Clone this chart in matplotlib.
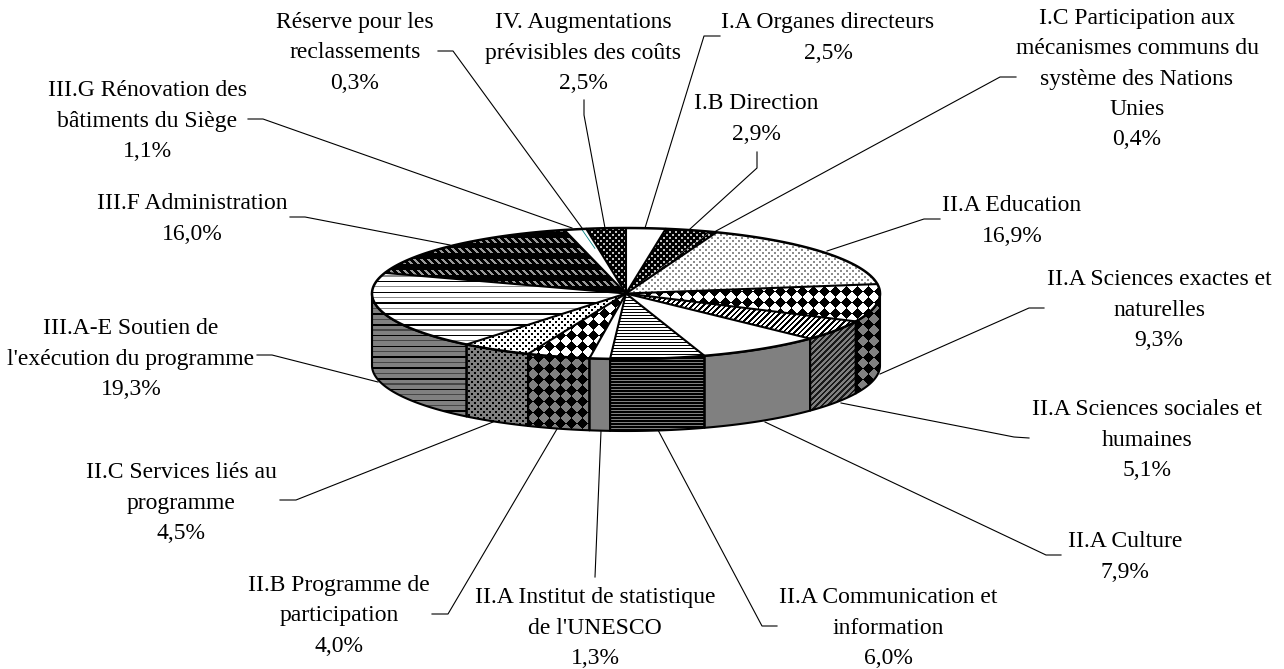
"""3D pie of the UNESCO budget split, drawn by hand as an oblique projection."""
import numpy as np
import matplotlib
matplotlib.use("Agg")
import matplotlib.pyplot as plt
from matplotlib.patches import Polygon

names = [
    "I.A Organes directeurs",
    "I.B Direction",
    "I.C Participation aux\nmécanismes communs du\nsystème des Nations\nUnies",
    "II.A Education",
    "II.A Sciences exactes et\nnaturelles",
    "II.A Sciences sociales et\nhumaines",
    "II.A Culture",
    "II.A Communication et\ninformation",
    "II.A Institut de statistique\nde l'UNESCO",
    "II.B Programme de\nparticipation",
    "II.C Services liés au\nprogramme",
    "III.A-E Soutien de\nl'exécution du programme",
    "III.F Administration",
    "III.G Rénovation des\nbâtiments du Siège",
    "Réserve pour les\nreclassements",
    "IV. Augmentations\nprévisibles des coûts",
]
shares = [2.5, 2.9, 0.4, 16.9, 9.3, 5.1, 7.9, 6.0, 1.3, 4.0, 4.5, 19.3, 16.0, 1.1, 0.3, 2.5]
fills = ["plain", "dark_dots", "dark_dots", "fine_dots", "diamonds", "diagonal", "plain",
         "fine_lines", "plain", "diamonds", "dots", "wide_lines", "slashes", "plain", "plain",
         "dark_dots"]

# layout, in pixels of the 1284x669 canvas
W, H = 1284, 669
CX, CY, RX, RY, DEPTH = 626, 293.5, 254, 65.5, 72
label_x = [828, 756, 1137, 1012, 1159, 1147, 1125, 888, 595, 339, 181, 131, 192, 147, 355, 583]
label_y = [36, 117, 77, 219, 308, 438, 555, 626, 626, 614, 501, 357, 217, 119, 51, 51]
TEXT_DY = 2.0
leaders = [
    [(720, 36), (704, 36), (645, 228)],
    [(757, 152), (757, 168), (690, 229)],
    [(1016, 77), (1000, 77), (716, 231)],
    [(940, 219), (924, 219), (827, 251)],
    [(1044, 308), (1029, 308), (880, 374)],
    [(1029, 438), (1014, 437), (841, 403)],
    [(1061, 555), (1046, 555), (765, 422)],
    [(777, 626), (762, 626), (658, 430)],
    [(595, 577), (601, 431)],
    [(432, 614), (448, 614), (557, 429)],
    [(280, 500), (296, 500), (493, 422)],
    [(257, 355), (272, 355), (378, 382)],
    [(290, 217), (305, 217), (450, 245)],
    [(248, 119), (263, 119), (572, 228)],
    [(438, 51), (453, 51), (582, 228)],
    [(584, 100), (584, 115), (605, 228)],
]

GREY = 0.5
X, Y = np.meshgrid(np.arange(W) + 0.5, np.arange(H) + 0.5)


def ink(kind, side):
    """Ink coverage (0-1) of a fill pattern over the whole canvas."""
    if kind == "dark_dots":
        holes = ((X % 6 < 2) & (Y % 6 < 2)) | (((X + 3) % 6 < 2) & ((Y + 3) % 6 < 2))
        return np.where(holes, 0.25, 1.0)
    if kind == "fine_dots":
        dots = ((X % 6 < 2) & (Y % 6 < 2)) | (((X + 3) % 6 < 2) & ((Y + 3) % 6 < 2))
        return np.where(dots, 0.45, 0.0)
    if kind == "dots":
        dots = ((X % 6 < 2) & (Y % 6 < 2)) | (((X + 3) % 6 < 2) & ((Y + 3) % 6 < 2))
        return dots * 1.0
    if kind == "diamonds":
        return (((X + Y) % 22 < 11) ^ ((X - Y) % 22 < 11)) * 1.0
    if kind == "diagonal":
        return ((X + Y) % 5.6 < 2.6) * (0.8 if side else 1.0)
    if kind == "fine_lines":
        return (Y % 3 < (2 if side else 1)) * 1.0
    if kind == "wide_lines":
        strong = Y % 10.8 < 1.5
        weak = (Y + 5.4) % 10.8 < 1.2
        return np.where(strong, 1.0, np.where(weak, 0.45, 0.0))
    if kind == "slashes":
        holes = (Y % 10.8 < 5) & ((X - Y) % 7 < 2.5)
        return np.where(holes, 0.4, 1.0)
    return None


def rim(start, stop, drop=0.0):
    """Rim points between two cumulative shares, clockwise from the top."""
    n = max(int(abs(stop - start) * 6), 2)
    t = np.linspace(start, stop, n) / 100 * 2 * np.pi
    return np.column_stack([CX + RX * np.sin(t), CY - RY * np.cos(t) + drop])


def fill_poly(ax, pts, bg, kind, side, z):
    patch = Polygon(pts, closed=True, facecolor=(bg, bg, bg), edgecolor="none", zorder=z)
    ax.add_patch(patch)
    cover = ink(kind, side)
    if cover is not None:
        shade = bg * (1 - cover)
        im = ax.imshow(shade, cmap="gray", vmin=0, vmax=1, extent=(0, W, H, 0),
                       interpolation="nearest", zorder=z, aspect="auto")
        im.set_clip_path(patch)


plt.rcParams["font.family"] = ["Liberation Serif", "DejaVu Serif"]
fig = plt.figure(figsize=(W / 100, H / 100), dpi=100)
ax = fig.add_axes([0, 0, 1, 1])

edges = np.concatenate([[0], np.cumsum(shares)])
edges = edges / edges[-1] * 100

# front wall, only the part facing the viewer
for i, kind in enumerate(fills):
    a, b = max(edges[i], 25), min(edges[i + 1], 75)
    if b <= a:
        continue
    pts = np.vstack([rim(a, b), rim(b, a, DEPTH)])
    fill_poly(ax, pts, GREY, kind, True, 2)
    ax.add_patch(Polygon(pts, closed=True, fill=False, ec="k", lw=1.5, joinstyle="round", zorder=3))

# top face
for i, kind in enumerate(fills):
    pts = np.vstack([[(CX, CY)], rim(edges[i], edges[i + 1])])
    fill_poly(ax, pts, 1.0, kind, False, 4)
for i in range(len(fills)):
    if i in (2, len(fills) - 2):  # these spokes do not show as black
        continue
    p = rim(edges[i], edges[i] + 0.01)[0]
    ax.plot([CX, p[0]], [CY, p[1]], color="k", lw=1.5, solid_capstyle="round", zorder=5)
p = rim(edges[-3], edges[-3] + 0.01)[0]
ax.plot([p[0], CX + (p[0] - CX) * 0.7], [p[1], CY + (p[1] - CY) * 0.7], color="#008080", lw=0.6, zorder=5)
ax.add_patch(Polygon(rim(0, 100), closed=True, fill=False, ec="k", lw=1.8, zorder=6))

# leaders and labels
for path in leaders:
    xs, ys = zip(*path)
    ax.plot(xs, ys, color="k", lw=0.8, zorder=1)
for name, share, x, y in zip(names, shares, label_x, label_y):
    pct = f"{share:.1f}%".replace(".", ",")
    ax.text(x, y + TEXT_DY, f"{name}\n{pct}", ha="center", va="center",
            fontsize=17, linespacing=1.58, color="k", zorder=7)

ax.set_xlim(0, W)
ax.set_ylim(H, 0)
ax.axis("off")
fig.savefig("out.png", dpi=100, facecolor="white")
